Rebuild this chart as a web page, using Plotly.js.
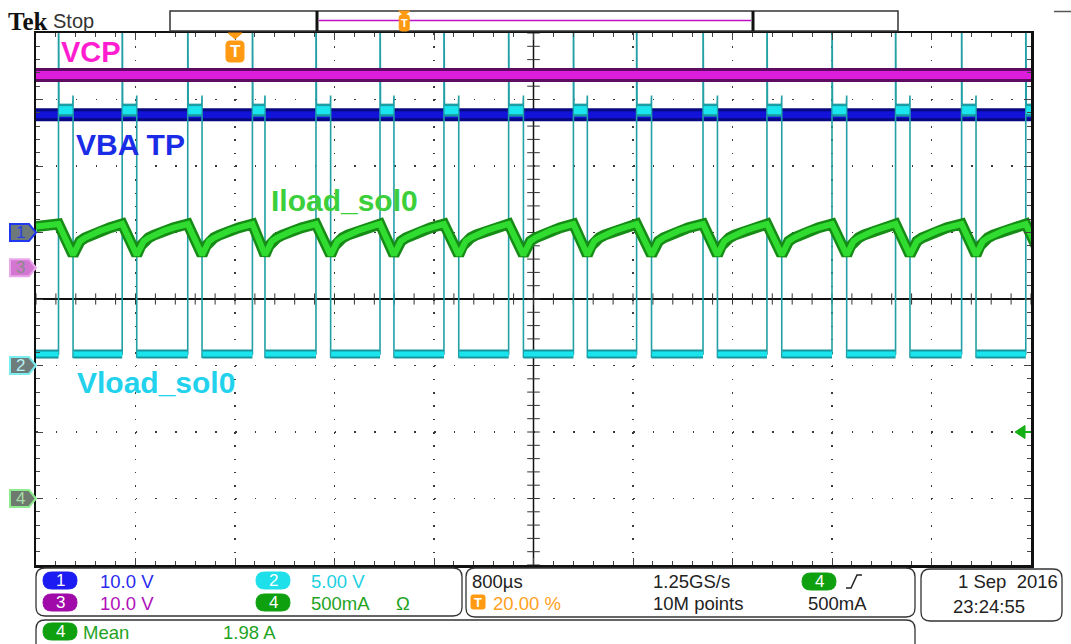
<!DOCTYPE html>
<html><head><meta charset="utf-8">
<script src="https://cdn.plot.ly/plotly-3.0.1.min.js"></script>
<style>html,body{margin:0;padding:0;background:#fff;} #chart{width:1071px;height:644px;}</style>
</head><body><div id="chart"></div>
<script>
const timeRange = [-1.6, 6.4];                 // ms : 800 µs/div x 10 div, trigger at 20 %
const channelIds = ['1', '2', '3', '4'];
const channelNames = ['VBA TP', 'Vload_sol0', 'VCP', 'Iload_sol0'];
const channelScales = [10, 5, 10, 0.5];        // V/div, V/div, V/div, A/div
const channelPositions = [1.0, -1.0, 0.47, -3.0]; // div

const vcpLevel = 29.0;   // V  (ch3)
const vbaLevel = 17.7;   // V  (ch1)

// ch2 load-switch pulses (ms)
const pulseRise = [-1.419, -0.907, -0.380, 0.140, 0.651, 1.166, 1.680, 2.200, 2.721, 3.229, 3.763, 4.277, 4.800, 5.311, 5.842, 6.358];
const pulseFall = [-1.302, -0.790, -0.265, 0.241, 0.769, 1.278, 1.799, 2.319, 2.833, 3.349, 3.879, 4.396, 4.918, 5.427, 5.958, 6.475];
const vloadLow = 0.86;      // V
const vloadHigh = 19.2;     // V
const vloadSpike = 30;      // V (clipped overshoot)
const vloadFallTop = 20.3;  // V
const vloadUnder = 0.3;     // V

// ch4 load current (A)
const iloadStart = 2.045;
const iloadPeak = 2.064;
const iloadRecoveryOffset = [0, 0.032, 0.056, 0.096, 0.137, 0.217, 0.297]; // ms after switch-off
const iloadRecoveryValue  = [1.831, 1.900, 1.935, 1.960, 1.980, 2.012, 2.036];
const triggerLevel = 0.5;   // A on ch4
const triggerTime = 0;      // ms

// readouts
const scaleText = ['10.0 V', '5.00 V', '10.0 V', '500mA'];
const timebaseText = ['800\u00b5s', '1.25GS/s', '10M points', '20.00 %', '500mA'];
const dateText = ['1 Sep\u00a0\u00a02016', '23:24:55'];
const measText = ['Mean', '1.98 A'];

// graticule
const divX = 10, divY = 8, subDiv = 5;

// ---------------- build traces ----------------
const d = 0.004;
const vcpX = [timeRange[0], timeRange[1]], vcpY = [vcpLevel, vcpLevel];
const vbaX = [timeRange[0], timeRange[1]], vbaY = [vbaLevel, vbaLevel];

const iX = [timeRange[0]], iY = [iloadStart];
pulseRise.forEach((tr, i) => {
  iX.push(tr); iY.push(iloadPeak);
  const tf = pulseFall[i];
  const next = i + 1 < pulseRise.length ? pulseRise[i + 1] : Infinity;
  iloadRecoveryOffset.forEach((o, k) => {
    if (tf + o < next) { iX.push(tf + o); iY.push(iloadRecoveryValue[k]); }
  });
});

const vX = [timeRange[0]], vY = [vloadLow];
pulseRise.forEach((tr, i) => {
  const tf = pulseFall[i];
  vX.push(tr, tr, tr + d, tf - d, tf, tf, tf + d);
  vY.push(vloadLow, vloadSpike, vloadHigh, vloadHigh, vloadFallTop, vloadLow - vloadUnder, vloadLow);
});
const lowX = [], lowY = [], highX = [], highY = [];
lowX.push(timeRange[0], pulseRise[0], null); lowY.push(vloadLow, vloadLow, null);
pulseRise.forEach((tr, i) => {
  highX.push(tr + d, pulseFall[i] - d, null); highY.push(vloadHigh, vloadHigh, null);
  const nxt = i + 1 < pulseRise.length ? pulseRise[i + 1] : timeRange[1];
  lowX.push(pulseFall[i] + d, nxt, null); lowY.push(vloadLow, vloadLow, null);
});

// crosshair tick marks (on the centre lines)
const tSpan = timeRange[1] - timeRange[0];
const tMid = (timeRange[0] + timeRange[1]) / 2;
const hTickX = [], hTickY = [], vTickX = [], vTickY = [];
for (let k = 0; k <= divX * subDiv; k++) { hTickX.push(timeRange[0] + k * tSpan / (divX * subDiv)); hTickY.push(0); }
for (let k = 0; k <= divY * subDiv; k++) { vTickX.push(tMid); vTickY.push(-divY / 2 + k / subDiv); }

const ln = (x, y, ax, color, width) => ({
  x, y, yaxis: ax, type: 'scatter', mode: 'lines', line: {color, width},
  hoverinfo: 'skip', showlegend: false, connectgaps: false
});

const traces = [
  {x: [tMid, tMid], y: [-divY / 2, divY / 2], mode: 'lines', line: {color: '#111', width: 1.5}, hoverinfo: 'skip', showlegend: false},
  {x: hTickX, y: hTickY, mode: 'markers', marker: {symbol: 'line-ns', size: 8, line: {color: '#333', width: 1}}, hoverinfo: 'skip', showlegend: false},
  {x: vTickX, y: vTickY, mode: 'markers', marker: {symbol: 'line-ew', size: 9, line: {color: '#333', width: 1}}, hoverinfo: 'skip', showlegend: false},
  ln(vcpX, vcpY, 'y4', '#5e0c62', 14),
  ln(vcpX, vcpY, 'y4', '#dc1edc', 8),
  ln(vbaX, vbaY, 'y2', '#080880', 13),
  ln(vbaX, vbaY, 'y2', '#1212d8', 7),
  ln(iX, iY, 'y5', '#168c16', 11),
  ln(iX, iY, 'y5', '#2fdc2f', 6),
  ln(vX, vY, 'y3', '#22a0a5', 1.6),
  ln(highX, highY, 'y3', '#1a9ea4', 13),
  ln(highX, highY, 'y3', '#1ae4ee', 8),
  ln(lowX, lowY, 'y3', '#17979d', 9),
  ln(lowX, lowY, 'y3', '#1ae4ee', 5)
];

// ---------------- layout helpers ----------------
const L = 36, R = 1031, T = 33, B = 565;
const px = x => (x - L) / (R - L);
const py = y => (B - y) / (B - T);
const P = (x, y) => px(x).toFixed(5) + ',' + py(y).toFixed(5);
function rrect(x0, y0, x1, y1, r) {
  return 'M' + P(x0 + r, y0) + ' L' + P(x1 - r, y0) + ' Q' + P(x1, y0) + ' ' + P(x1, y0 + r) +
    ' L' + P(x1, y1 - r) + ' Q' + P(x1, y1) + ' ' + P(x1 - r, y1) +
    ' L' + P(x0 + r, y1) + ' Q' + P(x0, y1) + ' ' + P(x0, y1 - r) +
    ' L' + P(x0, y0 + r) + ' Q' + P(x0, y0) + ' ' + P(x0 + r, y0) + ' Z';
}
const shapes = [], annotations = [];
const pathShape = (path, fill, line, lw) => shapes.push({type: 'path', xref: 'paper', yref: 'paper', path,
  fillcolor: fill || 'rgba(0,0,0,0)', line: {color: line || 'rgba(0,0,0,0)', width: lw || 0}, layer: 'above'});
const F = 'Liberation Sans, Arial, sans-serif';
const text = (t, x, y, color, size, opts) => annotations.push(Object.assign({
  text: t, xref: 'paper', yref: 'paper', x: px(x), y: py(y), xanchor: 'left', yanchor: 'middle',
  showarrow: false, borderpad: 0, borderwidth: 0,
  font: {family: F, size, color}
}, opts || {}));

// channel labels
text('<b>' + channelNames[2] + '</b>', 61, 52, '#ff1ecf', 29);
text('<b>' + channelNames[0] + '</b>', 76, 144, '#1a2ce6', 30);
text('<b>' + channelNames[3] + '</b>', 271, 200, '#3ccf3c', 30);
text('<b>' + channelNames[1] + '</b>', 77, 382, '#22d2ec', 30);

// channel ground markers (left)
const markerStyle = [
  {fill: '#6e7a7a', line: '#2038f0', digit: '#2a3ee8'},
  {fill: '#6e7c7c', line: '#7aeeee', digit: '#b6f2f2'},
  {fill: '#d276d2', line: '#eaa8ea', digit: '#8a8a8a'},
  {fill: '#6e7a6e', line: '#8eec8e', digit: '#a6dca6'}
];
channelPositions.forEach((pos, k) => {
  const yc = (pos + divY / 2) / divY, h = 8.5 / (B - T);
  const x0 = px(10), x1 = px(29), x2 = px(36);
  const path = 'M' + x0 + ',' + (yc + h) + ' L' + x1 + ',' + (yc + h) + ' L' + x2 + ',' + yc +
    ' L' + x1 + ',' + (yc - h) + ' L' + x0 + ',' + (yc - h) + ' Z';
  pathShape(path, markerStyle[k].fill, markerStyle[k].line, 2);
  annotations.push({text: channelIds[k], xref: 'paper', yref: 'paper', x: px(20), y: yc, xanchor: 'center',
    yanchor: 'middle', showarrow: false, font: {family: F, size: 17, color: markerStyle[k].digit}});
});

// trigger level arrow (right)
{
  const k = 3;
  const yc = (channelPositions[k] + triggerLevel / channelScales[k] + divY / 2) / divY, h = 6.5 / (B - T);
  pathShape('M' + px(1015) + ',' + yc + ' L' + px(1025) + ',' + (yc + h) + ' L' + px(1025) + ',' + (yc - h) + ' Z', '#12b012', '#12b012', 1);
  shapes.push({type: 'line', xref: 'paper', yref: 'paper', x0: px(1024), x1: 1, y0: yc, y1: yc,
    line: {color: '#12b012', width: 2}, layer: 'above'});
}

// trigger position marker (top)
{
  const xt = (triggerTime - timeRange[0]) / tSpan;
  const w = 1 / (R - L);
  pathShape('M' + (xt - 7 * w) + ',' + py(33) + ' L' + (xt + 7 * w) + ',' + py(33) + ' L' + xt + ',' + py(39) + ' Z', '#ff9a12', '#ff9a12', 1);
  const xc = L + xt * (R - L);
  pathShape(rrect(xc - 9, 41, xc + 9, 62, 4), '#ff9a12', '#ff9a12', 1);
  annotations.push({text: '<b>T</b>', xref: 'paper', yref: 'paper', x: xt, y: py(51.5), xanchor: 'center', yanchor: 'middle',
    showarrow: false, font: {family: F, size: 17, color: '#ffffff'}});
}

// top bar
text('<b>Tek</b>', 8, 21, '#111', 25, {font: {family: 'Liberation Serif, serif', size: 25, color: '#111'}});
text('Stop', 53, 21, '#333', 20);
shapes.push({type: 'rect', xref: 'paper', yref: 'paper', x0: px(170), x1: px(898), y0: py(31), y1: py(11),
  line: {color: '#333', width: 1.5}, layer: 'above'});
[317, 753].forEach(x => {
  shapes.push({type: 'line', xref: 'paper', yref: 'paper', x0: px(x), x1: px(x), y0: py(31), y1: py(11),
    line: {color: '#111', width: 3}, layer: 'above'});
});
shapes.push({type: 'line', xref: 'paper', yref: 'paper', x0: px(319), x1: px(751), y0: py(20.5), y1: py(20.5),
  line: {color: '#c010c8', width: 1.5}, layer: 'above'});
{
  const xr = 317 + (753 - 317) * (triggerTime - timeRange[0]) / tSpan;
  pathShape('M' + P(xr - 5.5, 11) + ' L' + P(xr + 5.5, 11) + ' L' + P(xr, 16) + ' Z', '#ff9a12', '#ff9a12', 1);
  pathShape(rrect(xr - 5, 15, xr + 5, 31, 2.5), '#ff9a12', '#ff9a12', 1);
  annotations.push({text: '<b>T</b>', xref: 'paper', yref: 'paper', x: px(xr), y: py(23), xanchor: 'center', yanchor: 'middle',
    showarrow: false, font: {family: F, size: 11, color: '#ffffff'}});
}
shapes.push({type: 'line', xref: 'paper', yref: 'paper', x0: px(1054), x1: px(1071), y0: py(11.5), y1: py(11.5),
  line: {color: '#555', width: 1.5}, layer: 'above'});

// bottom readout boxes
pathShape(rrect(36, 568, 462, 616, 9), '#fff', '#333', 1.3);
pathShape(rrect(466, 568, 915, 617, 9), '#fff', '#333', 1.3);
pathShape(rrect(921, 569, 1062, 621, 9), '#fff', '#333', 1.3);
pathShape(rrect(36, 620, 915, 664, 9), '#fff', '#333', 1.3);

const pill = (x0, y0, label, color) => {
  pathShape(rrect(x0, y0, x0 + 34, y0 + 17, 8.5), color, color, 1);
  annotations.push({text: label, xref: 'paper', yref: 'paper', x: px(x0 + 17), y: py(y0 + 8.8), xanchor: 'center',
    yanchor: 'middle', showarrow: false, font: {family: F, size: 17, color: '#ffffff'}});
};
const chColors = ['#1c1cf2', '#1ee0ea', '#a00aa8', '#0ea00e'];
const chTextColors = ['#2a2af0', '#1ccfe2', '#b010b8', '#1fa31f'];
pill(43, 572, channelIds[0], chColors[0]);
pill(43, 594, channelIds[2], chColors[2]);
pill(256, 572, channelIds[1], chColors[1]);
pill(256, 594, channelIds[3], chColors[3]);
pill(802, 573, channelIds[3], chColors[3]);
pill(43, 623, channelIds[3], chColors[3]);

const RS = 18.5;
text(scaleText[0], 100, 581, chTextColors[0], RS);
text(scaleText[2], 100, 603, chTextColors[2], RS);
text(scaleText[1], 311, 581, chTextColors[1], RS);
text(scaleText[3], 311, 603, chTextColors[3], RS);
text('\u03a9', 396, 603, chTextColors[3], RS);
text(timebaseText[0], 472, 581, '#222', RS);
text(timebaseText[1], 653, 581, '#222', RS);
text(timebaseText[2], 653, 603, '#222', RS);
pathShape(rrect(471, 595, 485, 609, 2), '#ff9a12', '#ff9a12', 1);
annotations.push({text: '<b>T</b>', xref: 'paper', yref: 'paper', x: px(478), y: py(602), xanchor: 'center', yanchor: 'middle',
  showarrow: false, font: {family: F, size: 13, color: '#ffffff'}});
text(timebaseText[3], 493, 603, '#ffa020', RS);
text(timebaseText[4], 808, 603, '#222', RS);
pathShape('M' + P(846, 588) + ' L' + P(851, 588) + ' L' + P(857, 575) + ' L' + P(862, 575), null, '#222', 1.5);
text(dateText[0], 1058, 581, '#222', RS, {xanchor: 'right'});
text(dateText[1], 953, 606, '#222', RS);
text(measText[0], 83, 632, chTextColors[3], RS);
text(measText[1], 223, 632, chTextColors[3], RS);

// ---------------- axes ----------------
const chAxis = k => ({
  overlaying: 'y', visible: false, fixedrange: true,
  range: [(-divY / 2 - channelPositions[k]) * channelScales[k], (divY / 2 - channelPositions[k]) * channelScales[k]]
});

const layout = {
  width: 1071, height: 644,
  margin: {l: L, r: 1071 - R, t: T, b: 644 - B, pad: 0},
  paper_bgcolor: '#ffffff', plot_bgcolor: 'rgba(0,0,0,0)',
  showlegend: false,
  xaxis: {
    range: timeRange, dtick: tSpan / divX, tick0: 0, showgrid: true, gridcolor: '#3a3a3a', gridwidth: 1.5,
    griddash: '1.5px,11.8px', zeroline: false, showline: true, linecolor: '#111', linewidth: 2.5,
    mirror: 'ticks', ticks: 'inside', ticklen: 7, tickcolor: '#444', tickwidth: 1, showticklabels: false,
    minor: {dtick: tSpan / divX / subDiv, tick0: 0, ticks: 'inside', ticklen: 4, tickcolor: '#444', tickwidth: 1, showgrid: false},
    fixedrange: true
  },
  yaxis: {
    range: [-divY / 2, divY / 2], dtick: 1, tick0: 0, showgrid: true, gridcolor: '#3a3a3a', gridwidth: 1.5,
    griddash: '1.5px,18.4px', zeroline: true, zerolinecolor: '#111', zerolinewidth: 1.5,
    showline: true, linecolor: '#111', linewidth: 2.5,
    mirror: 'ticks', ticks: 'inside', ticklen: 7, tickcolor: '#444', tickwidth: 1, showticklabels: false,
    minor: {dtick: 1 / subDiv, tick0: 0, ticks: 'inside', ticklen: 4, tickcolor: '#444', tickwidth: 1, showgrid: false},
    fixedrange: true
  },
  yaxis2: chAxis(0), yaxis3: chAxis(1), yaxis4: chAxis(2), yaxis5: chAxis(3),
  shapes, annotations
};

Plotly.newPlot('chart', traces, layout, {staticPlot: true, displayModeBar: false});
</script></body></html>
